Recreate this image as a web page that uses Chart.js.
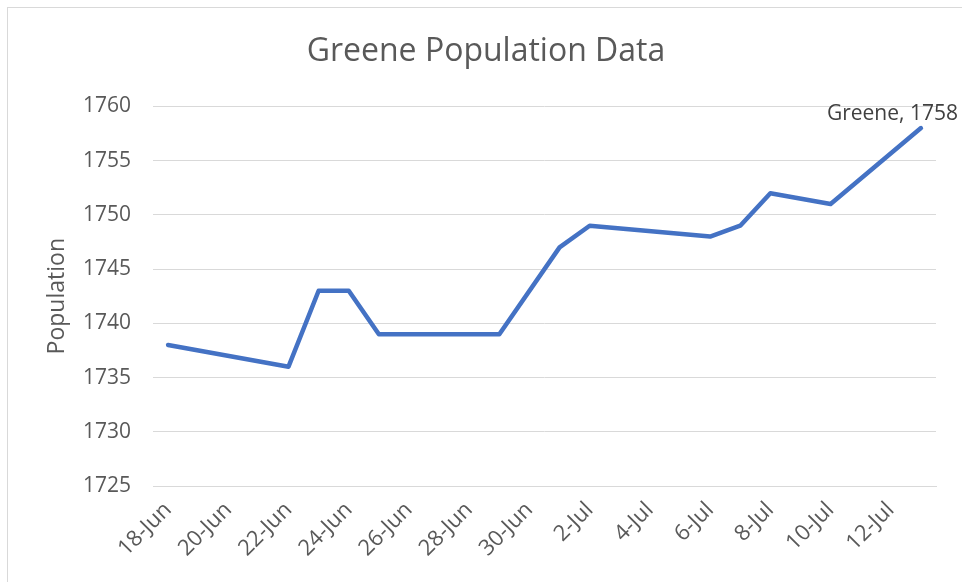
<!DOCTYPE html>
<html>
<head>
<meta charset="utf-8">
<script src="https://cdn.jsdelivr.net/npm/chart.js@4"></script>
<style>
    html, body { margin: 0; padding: 0; background: #fff; }
    #wrap { position: relative; width: 962px; height: 582px; }
    #frame { position: absolute; left: 7px; top: 7px; width: 970px; height: 590px; border: 1px solid #d9d9d9; box-sizing: border-box; }
    #myPopulation { position: absolute; left: 0; top: 0; }
</style>
</head>
<body>
<div id="wrap">
    <div id="frame"></div>
    <canvas id="myPopulation" width="962" height="582"></canvas>
</div>
<script>
// every day on the date axis
const days = ['18-Jun', '19-Jun', '20-Jun', '21-Jun', '22-Jun', '23-Jun', '24-Jun', '25-Jun', '26-Jun',
    '27-Jun', '28-Jun', '29-Jun', '30-Jun', '1-Jul', '2-Jul', '3-Jul', '4-Jul', '5-Jul', '6-Jul',
    '7-Jul', '8-Jul', '9-Jul', '10-Jul', '11-Jul', '12-Jul', '13-Jul'];
// days that have a count
const countDays = ['18-Jun', '22-Jun', '23-Jun', '24-Jun', '25-Jun', '29-Jun', '1-Jul', '2-Jul',
    '6-Jul', '7-Jul', '8-Jul', '10-Jul', '13-Jul'];
const population = [1738, 1736, 1743, 1743, 1739, 1739, 1747, 1749, 1748, 1749, 1752, 1751, 1758];
const yTicks = [1725, 1730, 1735, 1740, 1745, 1750, 1755, 1760];

const seriesName = 'Greene';
const seriesData = days.map(d => {
    const i = countDays.indexOf(d);
    return i === -1 ? null : population[i];
});

const FONT = "'Open Sans', 'DejaVu Sans', sans-serif";
const TEXT = '#595959';

// label on the last point, like Excel's "Series, Value" label
const lastLabel = {
    id: 'lastLabel',
    afterDatasetsDraw(chart) {
        const meta = chart.getDatasetMeta(0);
        let idx = seriesData.length - 1;
        while (idx >= 0 && seriesData[idx] === null) idx--;
        const pt = meta.data[idx];
        const ctx = chart.ctx;
        ctx.save();
        ctx.font = '21px ' + FONT;
        ctx.fillStyle = '#404040';
        ctx.textAlign = 'right';
        ctx.textBaseline = 'middle';
        ctx.fillText(seriesName + ', ' + seriesData[idx], pt.x + 37, pt.y - 14);
        ctx.restore();
    }
};

const ctx = document.getElementById('myPopulation');

new Chart(ctx, {
    type: 'line',
    data: {
        labels: days,
        datasets: [{
            label: seriesName,
            data: seriesData,
            spanGaps: true,
            borderColor: '#4472C4',
            borderWidth: 4.5,
            borderJoinStyle: 'round',
            borderCapStyle: 'round',
            pointRadius: 0,
            tension: 0
        }]
    },
    options: {
        responsive: false,
        animation: false,
        layout: {
            padding: { left: 10, right: 0, top: 0, bottom: 0 }
        },
        plugins: {
            legend: { display: false },
            tooltip: { enabled: false },
            title: {
                display: true,
                text: 'Greene Population Data',
                color: TEXT,
                font: { family: FONT, size: 32, weight: 'normal', lineHeight: 1.2 },
                padding: { top: 33, bottom: 35 }
            }
        },
        scales: {
            x: {
                offset: true,
                grid: { display: false, drawTicks: false },
                border: { display: true, color: '#d9d9d9', width: 1 },
                ticks: {
                    autoSkip: false,
                    maxRotation: 45,
                    minRotation: 45,
                    padding: 11,
                    color: TEXT,
                    font: { family: FONT, size: 22 },
                    callback: function (value, index) {
                        return index % 2 === 0 ? this.getLabelForValue(value) : '';
                    }
                },
                afterFit(scale) { scale.height = 96; }
            },
            y: {
                min: 1725,
                max: 1760,
                afterBuildTicks(scale) { scale.ticks = yTicks.map(v => ({ value: v })); },
                grid: { color: '#d9d9d9', lineWidth: 1, drawTicks: false },
                border: { display: false },
                ticks: {
                    padding: 22,
                    color: TEXT,
                    font: { family: FONT, size: 21 },
                    callback: value => String(value)
                },
                title: {
                    display: true,
                    text: 'Population',
                    color: TEXT,
                    font: { family: FONT, size: 23, lineHeight: 1.2 },
                    padding: { top: 34, bottom: 0 }
                },
                afterFit(scale) { scale.width = 143; }
            },
            // empty strip on the right, keeps the plot inside the frame
            yRight: {
                position: 'right',
                min: 1725,
                max: 1760,
                grid: { display: false, drawTicks: false },
                border: { display: false },
                ticks: { display: false },
                afterFit(scale) { scale.width = 26; }
            }
        }
    },
    plugins: [lastLabel]
});
</script>
</body>
</html>
